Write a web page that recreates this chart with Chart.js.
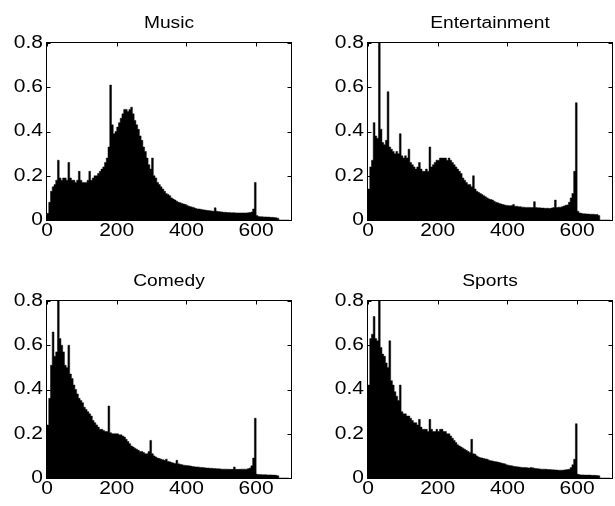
<!DOCTYPE html>
<html>
<head>
<meta charset="utf-8">
<title>Histograms by category</title>
<script src="https://cdn.jsdelivr.net/npm/chart.js@4.4.1/dist/chart.umd.min.js"></script>
<style>
  html, body { margin: 0; padding: 0; background: #fff; overflow: hidden; }
  #wrap { position: relative; width: 615px; height: 506px; }
  #wrap canvas { position: absolute; }
</style>
</head>
<body>
<div id="wrap">
  <canvas id="music" width="307" height="253" style="left:0;top:0"></canvas>
  <canvas id="entertainment" width="308" height="253" style="left:307px;top:0"></canvas>
  <canvas id="comedy" width="307" height="253" style="left:0;top:253px"></canvas>
  <canvas id="sports" width="308" height="253" style="left:307px;top:253px"></canvas>
</div>
<script>
// bins are 5 units wide, starting at 0
const BIN_WIDTH = 5;
const X_MAX = 700;
const Y_MAX = 0.8;
const X_TICKS = [0, 200, 400, 600];
const Y_TICKS = [0, 0.2, 0.4, 0.6, 0.8];

const music = [
  0.03, 0.08, 0.13, 0.15, 0.16, 0.18, 0.27, 0.19, 0.18, 0.19,
  0.19, 0.18, 0.26, 0.19, 0.18, 0.18, 0.17, 0.18, 0.22, 0.18,
  0.17, 0.17, 0.17, 0.18, 0.22, 0.18, 0.19, 0.20, 0.20, 0.21,
  0.22, 0.23, 0.24, 0.26, 0.28, 0.33, 0.61, 0.43, 0.39, 0.40,
  0.42, 0.44, 0.46, 0.48, 0.50, 0.50, 0.49, 0.50, 0.51, 0.48,
  0.45, 0.43, 0.41, 0.38, 0.36, 0.33, 0.31, 0.28, 0.25, 0.23,
  0.28, 0.20, 0.19, 0.17, 0.16, 0.15, 0.14, 0.13, 0.12, 0.115,
  0.11, 0.10, 0.095, 0.09, 0.085, 0.08, 0.078, 0.075, 0.072, 0.07,
  0.066, 0.062, 0.06, 0.058, 0.055, 0.052, 0.05, 0.05, 0.048, 0.046,
  0.045, 0.044, 0.043, 0.042, 0.041, 0.04, 0.055, 0.04, 0.038, 0.037,
  0.036, 0.035, 0.035, 0.034, 0.034, 0.033, 0.033, 0.033, 0.032, 0.032,
  0.032, 0.032, 0.032, 0.032, 0.032, 0.033, 0.034, 0.036, 0.05, 0.17,
  0.02, 0.016, 0.015, 0.015, 0.014, 0.014, 0.013, 0.013, 0.012, 0.012,
  0.011, 0.01, 0.008, 0, 0, 0, 0, 0, 0, 0
];

const entertainment = [
  0.14, 0.24, 0.27, 0.44, 0.38, 0.37, 0.80, 0.41, 0.35, 0.34,
  0.36, 0.58, 0.33, 0.32, 0.31, 0.30, 0.31, 0.30, 0.39, 0.29,
  0.28, 0.29, 0.28, 0.32, 0.26, 0.25, 0.24, 0.23, 0.24, 0.26,
  0.23, 0.22, 0.22, 0.23, 0.22, 0.33, 0.24, 0.25, 0.26, 0.27,
  0.27, 0.28, 0.28, 0.28, 0.28, 0.27, 0.28, 0.27, 0.26, 0.25,
  0.24, 0.23, 0.22, 0.21, 0.19, 0.18, 0.17, 0.16, 0.16, 0.15,
  0.20, 0.14, 0.13, 0.125, 0.12, 0.115, 0.11, 0.105, 0.10, 0.095,
  0.093, 0.09, 0.085, 0.08, 0.078, 0.075, 0.072, 0.07, 0.068, 0.066,
  0.065, 0.064, 0.065, 0.07, 0.062, 0.062, 0.06, 0.06, 0.058, 0.058,
  0.057, 0.057, 0.057, 0.056, 0.056, 0.083, 0.056, 0.055, 0.055, 0.054,
  0.054, 0.053, 0.053, 0.053, 0.052, 0.054, 0.056, 0.09, 0.056, 0.058,
  0.058, 0.06, 0.063, 0.067, 0.068, 0.08, 0.10, 0.12, 0.22, 0.53,
  0.04, 0.032, 0.03, 0.028, 0.028, 0.027, 0.027, 0.026, 0.026, 0.026,
  0.025, 0.025, 0.02, 0, 0, 0, 0, 0, 0, 0
];

const comedy = [
  0.24, 0.36, 0.51, 0.66, 0.55, 0.57, 0.80, 0.63, 0.60, 0.57,
  0.51, 0.50, 0.60, 0.47, 0.45, 0.42, 0.40, 0.38, 0.36, 0.35,
  0.34, 0.32, 0.31, 0.30, 0.29, 0.28, 0.26, 0.25, 0.24, 0.23,
  0.22, 0.22, 0.215, 0.21, 0.21, 0.325, 0.205, 0.20, 0.20, 0.20,
  0.20, 0.195, 0.195, 0.19, 0.185, 0.175, 0.165, 0.155, 0.145, 0.14,
  0.135, 0.13, 0.125, 0.12, 0.12, 0.115, 0.11, 0.11, 0.12, 0.17,
  0.11, 0.10, 0.095, 0.09, 0.088, 0.085, 0.083, 0.08, 0.085, 0.075,
  0.073, 0.07, 0.068, 0.066, 0.08, 0.064, 0.062, 0.06, 0.058, 0.057,
  0.056, 0.055, 0.054, 0.052, 0.051, 0.05, 0.05, 0.049, 0.048, 0.047,
  0.046, 0.045, 0.045, 0.044, 0.044, 0.043, 0.043, 0.042, 0.042, 0.041,
  0.04, 0.04, 0.04, 0.04, 0.039, 0.039, 0.039, 0.05, 0.039, 0.039,
  0.039, 0.04, 0.04, 0.04, 0.04, 0.042, 0.045, 0.055, 0.09, 0.27,
  0.017, 0.016, 0.016, 0.015, 0.015, 0.015, 0.014, 0.014, 0.014, 0.013,
  0.013, 0.012, 0.01, 0, 0, 0, 0, 0, 0, 0
];

const sports = [
  0.42, 0.63, 0.65, 0.73, 0.63, 0.62, 0.80, 0.59, 0.56, 0.55,
  0.52, 0.50, 0.62, 0.44, 0.42, 0.39, 0.37, 0.35, 0.42, 0.30,
  0.29, 0.29, 0.28, 0.28, 0.27, 0.26, 0.25, 0.25, 0.24, 0.265,
  0.23, 0.22, 0.22, 0.22, 0.21, 0.265, 0.22, 0.21, 0.21, 0.22,
  0.21, 0.22, 0.22, 0.21, 0.21, 0.20, 0.20, 0.19, 0.18, 0.17,
  0.16, 0.15, 0.145, 0.14, 0.135, 0.13, 0.125, 0.12, 0.115, 0.175,
  0.11, 0.107, 0.10, 0.095, 0.092, 0.09, 0.088, 0.086, 0.085, 0.08,
  0.078, 0.077, 0.075, 0.073, 0.072, 0.07, 0.068, 0.066, 0.064, 0.06,
  0.058, 0.056, 0.055, 0.053, 0.052, 0.051, 0.05, 0.049, 0.048, 0.047,
  0.047, 0.046, 0.045, 0.047, 0.046, 0.044, 0.043, 0.042, 0.041, 0.04,
  0.04, 0.04, 0.039, 0.038, 0.038, 0.037, 0.037, 0.036, 0.036, 0.035,
  0.035, 0.035, 0.036, 0.037, 0.038, 0.04, 0.047, 0.06, 0.085, 0.245,
  0.017, 0.015, 0.014, 0.014, 0.013, 0.013, 0.013, 0.013, 0.012, 0.012,
  0.012, 0.011, 0.01, 0, 0, 0, 0, 0, 0, 0
];

// one panel per category; padding puts the plot box in its place on the page
const panels = [
  { id: 'music', title: 'Music', values: music, padding: { left: 47, top: 43, right: 16, bottom: 33 } },
  { id: 'entertainment', title: 'Entertainment', values: entertainment, padding: { left: 61, top: 43, right: 3, bottom: 33 } },
  { id: 'comedy', title: 'Comedy', values: comedy, padding: { left: 47, top: 48, right: 16, bottom: 28 } },
  { id: 'sports', title: 'Sports', values: sports, padding: { left: 61, top: 48, right: 3, bottom: 28 } }
];

const FONT_FAMILY = '"Liberation Sans", Arial, Helvetica, sans-serif';
const TEXT_STRETCH = 1.2; // lettering is drawn a little wide

function drawWideText(ctx, text, x, y, align) {
  ctx.save();
  ctx.translate(x, y);
  ctx.scale(TEXT_STRETCH, 1);
  ctx.textAlign = align;
  ctx.fillText(text, 0, 0);
  ctx.restore();
}

// box frame with inward ticks on all four sides, tick labels and title
const boxAxes = {
  id: 'boxAxes',
  afterDraw(chart, args, opts) {
    const ctx = chart.ctx;
    const area = chart.chartArea;
    const xs = chart.scales.x;
    const ys = chart.scales.y;
    const L = Math.round(area.left) - 0.5;
    const R = Math.round(area.right) + 0.5;
    const T = Math.round(area.top) - 0.5;
    const B = Math.round(area.bottom) + 0.5;
    const tick = 4;

    ctx.save();
    ctx.strokeStyle = '#000';
    ctx.lineWidth = 1;
    ctx.strokeRect(L, T, R - L, B - T);

    ctx.beginPath();
    X_TICKS.forEach(v => {
      const px = Math.round(xs.getPixelForValue(v)) + 0.5;
      ctx.moveTo(px, B); ctx.lineTo(px, B - tick);
      ctx.moveTo(px, T); ctx.lineTo(px, T + tick);
    });
    Y_TICKS.forEach(v => {
      const py = Math.round(ys.getPixelForValue(v)) + 0.5;
      ctx.moveTo(L, py); ctx.lineTo(L + tick, py);
      ctx.moveTo(R, py); ctx.lineTo(R - tick, py);
    });
    ctx.stroke();

    ctx.fillStyle = '#000';
    ctx.font = '17.5px ' + FONT_FAMILY;
    ctx.textBaseline = 'middle';
    X_TICKS.forEach(v => {
      drawWideText(ctx, String(v), xs.getPixelForValue(v), area.bottom + 11, 'center');
    });
    Y_TICKS.forEach(v => {
      drawWideText(ctx, String(v), area.left - 4, ys.getPixelForValue(v), 'right');
    });

    ctx.font = '16px ' + FONT_FAMILY;
    ctx.textBaseline = 'alphabetic';
    drawWideText(ctx, opts.title, (area.left + area.right) / 2, area.top - 15, 'center');
    ctx.restore();
  }
};

panels.forEach(p => {
  new Chart(document.getElementById(p.id), {
    type: 'line',
    data: {
      datasets: [{
        label: p.title,
        data: p.values.map((v, i) => ({ x: i * BIN_WIDTH, y: v })),
        stepped: true,
        fill: 'origin',
        backgroundColor: '#000',
        borderColor: '#000',
        borderWidth: 0.5,
        pointRadius: 0,
        tension: 0
      }]
    },
    options: {
      responsive: false,
      animation: false,
      layout: { padding: p.padding },
      plugins: {
        legend: { display: false },
        tooltip: { enabled: false },
        boxAxes: { title: p.title }
      },
      scales: {
        x: { type: 'linear', min: 0, max: X_MAX, display: false },
        y: { type: 'linear', min: 0, max: Y_MAX, display: false }
      }
    },
    plugins: [boxAxes]
  });
});
</script>
</body>
</html>
